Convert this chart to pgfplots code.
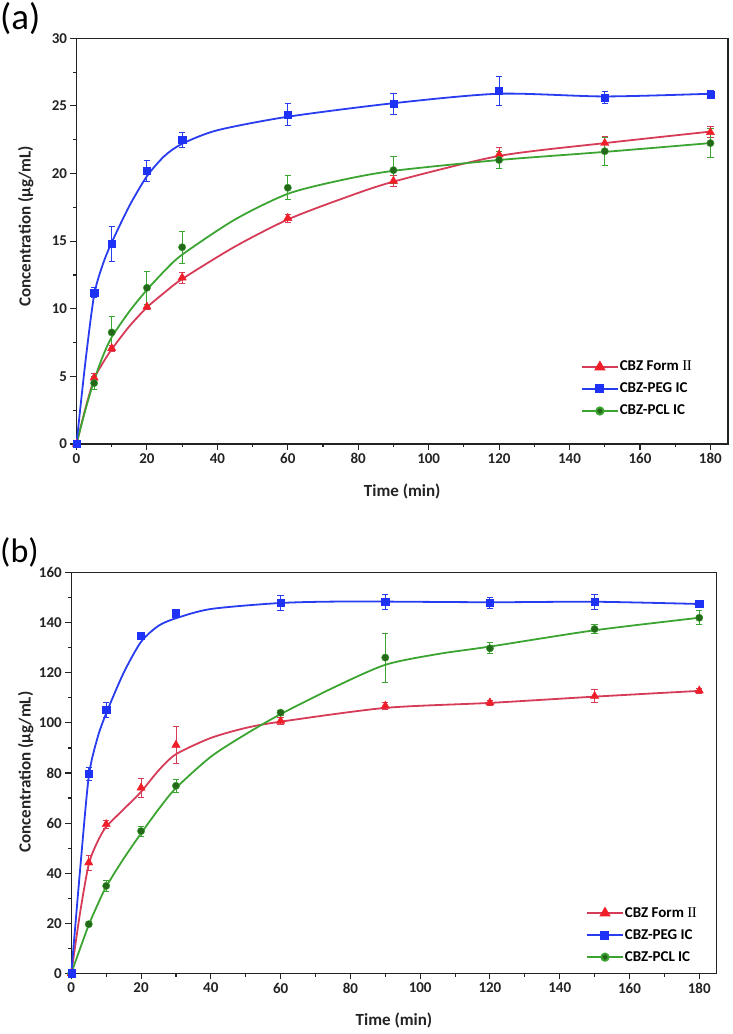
\documentclass[border=0pt]{standalone}
\usepackage{fontspec}
\setmainfont{Carlito}
\newfontfamily\romanfont{Liberation Serif}
\usepackage{pgfplots}
\pgfplotsset{compat=1.18}
\definecolor{redL}{RGB}{214,60,88}
\definecolor{redM}{RGB}{240,30,40}
\definecolor{blueL}{RGB}{40,60,240}
\definecolor{blueM}{RGB}{30,50,245}
\definecolor{greenL}{RGB}{60,165,50}
\definecolor{greenM}{RGB}{35,105,25}
\definecolor{axc}{RGB}{35,35,35}
\pgfplotsset{
  myaxis/.style={
    scale only axis, xmin=0, xmax=185,
    xtick={0,20,...,180}, minor x tick num=1, minor y tick num=1,
    tick align=outside, xtick pos=bottom, ytick pos=left,
    major tick length=6pt, minor tick length=3.5pt,
    axis line style={line width=1.3pt, axc},
    every tick/.style={line width=1.1pt, axc},
    tick label style={font=\bfseries\fontsize{15}{15}\selectfont, text=axc},
    /pgf/number format/assume math mode=true,
    label style={font=\bfseries\fontsize{17}{17}\selectfont, text=axc},
    clip=false,
    legend image code/.code={\draw[mark repeat=2,mark phase=2,##1] plot coordinates {(0pt,0pt)(18pt,0pt)(36pt,0pt)};},
    legend style={font=\bfseries\fontsize{15}{15}\selectfont, draw=none, fill=none, inner sep=0pt,
      nodes={inner sep=1pt, text height=11pt, text depth=3pt}, row sep=6pt},
    legend cell align=left,
  },
  rline/.style={redL, line width=1.8pt, smooth, tension=0.45, forget plot},
  bline/.style={blueL, line width=1.8pt, smooth, tension=0.45, forget plot},
  gline/.style={greenL, line width=1.8pt, smooth, tension=0.45, forget plot},
  rmark/.style={only marks, mark=triangle*, mark size=4.8pt, mark options={fill=redM, draw=redM}, forget plot,
    error bars/.cd, y dir=both, y explicit, error bar style={redL, line width=0.9pt},
    error mark options={rotate=90, redL, mark size=3.2pt, line width=0.9pt}},
  bmark/.style={only marks, mark=square*, mark size=3.6pt, mark options={fill=blueM, draw=blueM}, forget plot,
    error bars/.cd, y dir=both, y explicit, error bar style={blueL, line width=0.9pt},
    error mark options={rotate=90, blueL, mark size=3.2pt, line width=0.9pt}},
  gmark/.style={only marks, mark=*, mark size=3.7pt, mark options={fill=greenM, draw=greenL}, forget plot,
    error bars/.cd, y dir=both, y explicit, error bar style={greenL, line width=0.9pt},
    error mark options={rotate=90, greenL, mark size=3.2pt, line width=0.9pt}},
  rleg/.style={redL, line width=1.8pt, mark=triangle*, mark size=4.8pt, mark options={fill=redM, draw=redM}},
  bleg/.style={blueL, line width=1.8pt, mark=square*, mark size=3.6pt, mark options={fill=blueM, draw=blueM}},
  gleg/.style={greenL, line width=1.8pt, mark=*, mark size=3.7pt, mark options={fill=greenM, draw=greenL}},
}
\begin{document}
\begin{tikzpicture}[x=1pt,y=1pt]
\path[use as bounding box] (0,0) rectangle (732,1034);
\node[anchor=base west, inner sep=0pt, font=\fontsize{37}{37}\selectfont] at (0,1004) {(a)};
\node[anchor=base west, inner sep=0pt, font=\fontsize{34}{34}\selectfont] at (0,471) {(b)};
% ---------------- panel (a)
\begin{axis}[myaxis, at={(76.5pt,590pt)}, anchor=south west, width=651.5pt, height=405.7pt,
  ymin=0, ymax=30, ytick={0,5,...,30},
  xlabel={Time (min)}, ylabel={Concentration (µg/mL)},
  x label style={at={(axis description cs:0.5,-0.1176)}, anchor=center},
  y label style={at={(axis description cs:-0.078,0.537)}, anchor=center, rotate=0},
  legend style={at={(axis cs:143.2,6.3)}, anchor=north west}]
\addlegendimage{rleg}\addlegendentry{CBZ Form {\romanfont\fontseries{m}\selectfont I\kern-0.5pt I}}
\addlegendimage{bleg}\addlegendentry{CBZ-PEG IC}
\addlegendimage{gleg}\addlegendentry{CBZ-PCL IC}
\addplot[rline] coordinates {(0,0)(2.5,2.6)(5,4.8)(7.5,6.0)(10,7.0)(15,8.7)(20,10.1)(25,11.2)(30,12.2)(45,14.6)(60,16.6)(75,18.1)(90,19.4)(120,21.3)(150,22.25)(180,23.1)};
\addplot[gline] coordinates {(0,0)(2.5,2.5)(5,4.7)(7.5,6.5)(10,7.9)(15,9.8)(20,11.4)(25,12.8)(30,14.0)(45,16.6)(60,18.5)(75,19.5)(90,20.2)(120,21.0)(150,21.6)(180,22.25)};
\addplot[bline] coordinates {(0,0)(2.5,6.0)(5,11.0)(7.5,13.3)(10,14.9)(15,17.6)(20,19.8)(25,21.3)(30,22.2)(40,23.2)(60,24.2)(90,25.2)(120,25.9)(150,25.7)(180,25.9)};
\addplot[rmark] table[x=x,y=y,y error=e] {
x y e
0 0 0
5 4.9 0.3
10 7.07 0.2
20 10.15 0.2
30 12.3 0.4
60 16.7 0.3
90 19.45 0.4
120 21.4 0.5
150 22.25 0.5
180 23.05 0.4
};
\addplot[gmark] table[x=x,y=y,y error=e] {
x y e
0 0 0
5 4.5 0.5
10 8.25 1.15
20 11.55 1.2
30 14.55 1.2
60 18.95 0.9
90 20.25 1.0
120 21.0 0.6
150 21.65 1.05
180 22.25 1.05
};
\addplot[bmark] table[x=x,y=y,y error=e] {
x y e
0 0 0
5 11.2 0.4
10 14.8 1.3
20 20.2 0.75
30 22.5 0.55
60 24.35 0.8
90 25.15 0.75
120 26.1 1.05
150 25.6 0.45
180 25.85 0.3
};
\end{axis}
% ---------------- panel (b)
\begin{axis}[myaxis, at={(71.3pt,60.7pt)}, anchor=south west, width=645.4pt, height=400.6pt,
  ymin=0, ymax=160, ytick={0,20,...,160},
  xlabel={Time (min)}, ylabel={Concentration (µg/mL)},
  x label style={at={(axis description cs:0.5,-0.1166)}, anchor=center},
  y label style={at={(axis description cs:-0.0707,0.5025)}, anchor=center, rotate=0},
  legend style={at={(axis cs:147.5,27.3)}, anchor=north west}]
\addlegendimage{rleg}\addlegendentry{CBZ Form {\romanfont\fontseries{m}\selectfont I\kern-0.5pt I}}
\addlegendimage{bleg}\addlegendentry{CBZ-PEG IC}
\addlegendimage{gleg}\addlegendentry{CBZ-PCL IC}
\addplot[rline] coordinates {(0,0)(2.5,24)(5,43.5)(7.5,52.5)(10,58.5)(15,65.5)(20,72.5)(25,81)(30,87.5)(40,94)(50,98)(60,100.5)(90,106)(120,108)(150,110.5)(180,112.8)};
\addplot[gline] coordinates {(0,0)(2.5,9.8)(5,19.3)(7.5,27.3)(10,34.6)(15,45.8)(20,55.9)(25,65.5)(30,74.0)(40,86.5)(50,95.5)(60,103.5)(75,114)(90,123.2)(105,127.5)(120,130.5)(150,137)(180,142)};
\addplot[bline] coordinates {(0,0)(2.5,41)(5,78.5)(7.5,94)(10,103.8)(15,120)(20,132.4)(25,138.8)(30,141.8)(40,145.5)(60,147.9)(80,148.5)(120,148.2)(150,148.4)(180,147.5)};
\addplot[rmark] table[x=x,y=y,y error=e] {
x y e
0 0 0
5 44.2 3
10 59.5 1.5
20 74.1 3.9
30 91.2 7.5
60 100.8 1.5
90 106.8 1.3
120 108.1 1
150 110.7 2.7
180 112.9 1
};
\addplot[gmark] table[x=x,y=y,y error=e] {
x y e
0 0 0
5 19.6 1
10 34.9 2.3
20 56.8 2
30 74.9 2.5
60 104.1 1
90 126.1 9.8
120 129.8 2.2
150 137.5 1.8
180 142.0 2.8
};
\addplot[bmark] table[x=x,y=y,y error=e] {
x y e
0 0 0
5 79.6 2.7
10 105.2 3
20 134.8 1.5
30 143.8 1.5
60 148.0 3
90 148.4 3
120 148.0 2.2
150 148.4 3
180 147.5 1.2
};
\end{axis}
\end{tikzpicture}
\end{document}
